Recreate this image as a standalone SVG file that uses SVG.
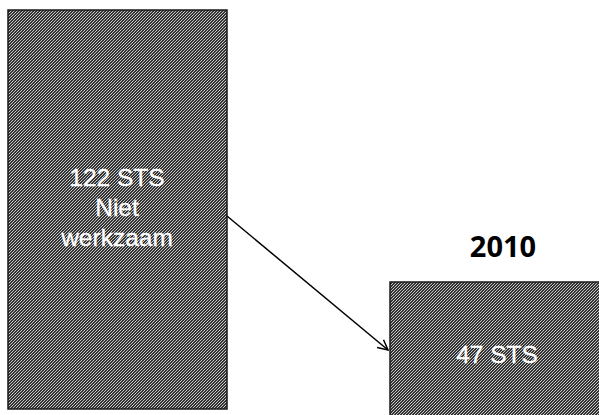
<svg xmlns="http://www.w3.org/2000/svg" width="599" height="415" viewBox="0 0 599 415">
<defs>
<pattern id="dither" width="3" height="3" patternUnits="userSpaceOnUse">
<rect width="3" height="3" fill="#333"/>
<rect x="0" y="0" width="1" height="1" fill="#d0d0d0"/>
<rect x="1" y="2" width="1" height="1" fill="#bbb"/>
<rect x="2" y="1" width="1" height="1" fill="#c4c4c4"/>
</pattern>
<marker id="arrow" viewBox="0 0 12 12" refX="11" refY="6" markerWidth="12" markerHeight="12" markerUnits="userSpaceOnUse" orient="auto">
<path d="M1,1 L11,6 L1,11" fill="none" stroke="#000" stroke-width="1.5"/>
</marker>
</defs>
<style>
.box{fill:url(#dither);stroke:#1a1a1a;stroke-width:1.5}
.lbl{font-family:"Liberation Sans","Open Sans",sans-serif;font-size:24.5px;fill:#fff;stroke:#fff;stroke-width:0.3;text-anchor:middle}
.yr{font-family:"Open Sans","Liberation Sans",sans-serif;font-size:29px;font-weight:bold;fill:#000;text-anchor:middle}
.conn{stroke:#000;stroke-width:1.5;fill:none}
</style>
<rect width="599" height="415" fill="#fff"/>
<g id="node-122">
<rect class="box" x="8" y="10" width="219" height="399"/>
<text class="lbl" x="117" y="186">122 STS</text>
<text class="lbl" x="117" y="216">Niet</text>
<text class="lbl" x="117" y="246">werkzaam</text>
</g>
<g id="node-47">
<rect class="box" x="390" y="282" width="212" height="140"/>
<text class="lbl" x="497" y="363">47 STS</text>
</g>
<g id="label-2010">
<text class="yr" x="503" y="257">2010</text>
</g>
<g id="connectors">
<line class="conn" x1="227" y1="216" x2="388" y2="350" marker-end="url(#arrow)"/>
</g>
</svg>
